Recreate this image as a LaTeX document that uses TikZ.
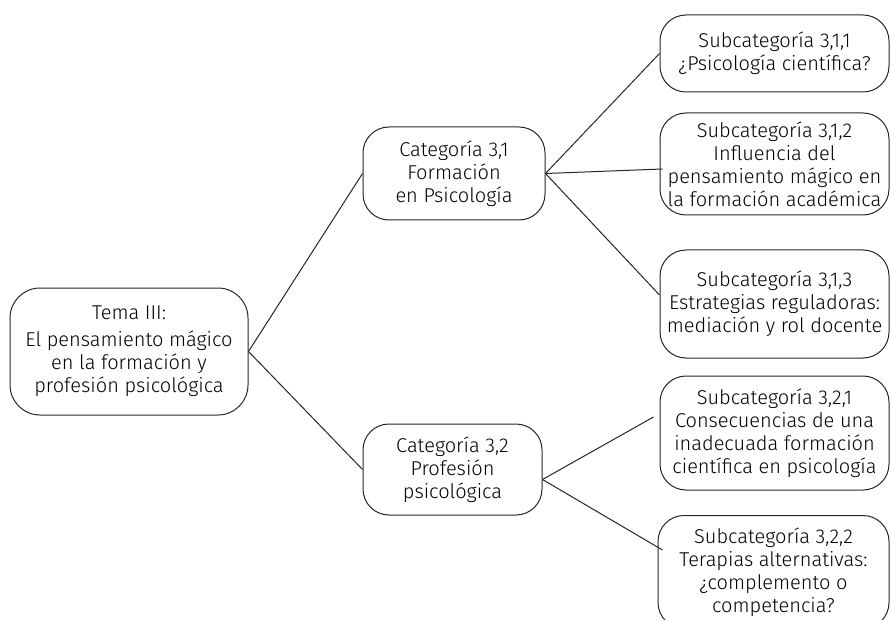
\documentclass[tikz,border=0pt]{standalone}
\usepackage{fontspec}
\setmainfont{Fira Sans Light}
\usetikzlibrary{calc}
\begin{document}
\begin{tikzpicture}[x=1pt,y=-1pt,
  box/.style={draw=black!85, line width=1pt, rounded corners=26pt, align=center,
    inner sep=0pt, font=\fontsize{20}{23}\selectfont, text=black},
  link/.style={draw=black!85, line width=1pt}]
\clip (0,0) rectangle (891,620);
\useasboundingbox (0,0) rectangle (891,620);
\node[box, minimum width=238pt, minimum height=127pt, rounded corners=30pt] (tema) at (129,351.5)
  {Tema III:\\[4pt]El pensamiento mágico\\en la formación y\\profesión psicológica};
\node[box, minimum width=182pt, minimum height=93pt] (c1) at (454,173.5)
  {Categoría 3,1\\Formación\\en Psicología};
\node[box, minimum width=179pt, minimum height=91pt] (c2) at (452.5,469.5)
  {Categoría 3,2\\Profesión\\psicológica};
\node[box, minimum width=229pt, minimum height=77pt] (s1) at (774.5,53.5)
  {Subcategoría 3,1,1\\¿Psicología científica?};
\node[box, minimum width=229pt, minimum height=102pt] (s2) at (774.5,164)
  {Subcategoría 3,1,2\\Influencia del\\pensamiento mágico en\\la formación académica};
\node[box, minimum width=229pt, minimum height=108pt] (s3) at (774.5,304)
  {Subcategoría 3,1,3\\Estrategias reguladoras:\\mediación y rol docente};
\node[box, minimum width=229pt, minimum height=114pt] (s4) at (774.5,433)
  {Subcategoría 3,2,1\\Consecuencias de una\\inadecuada formación\\científica en psicología};
\node[box, minimum width=231pt, minimum height=113pt, anchor=north] (s5) at (773.5,515)
  {Subcategoría 3,2,2\\Terapias alternativas:\\¿complemento o\\competencia?};
\draw[link] (tema.east) -- (c1.west);
\draw[link] (tema.east) -- (c2.west);
\draw[link] (c1.east) -- (s1.west);
\draw[link] (c1.east) -- ([xshift=3pt,yshift=-5pt]s2.west);
\draw[link] (c1.east) -- ([yshift=9pt]s3.west);
\draw[link] ([yshift=-10pt]c2.east) -- ([xshift=-6pt,yshift=16pt]s4.west);
\draw[link] ([yshift=-10pt]c2.east) -- ([xshift=5pt]s5.west|-0,550);
\end{tikzpicture}
\end{document}
